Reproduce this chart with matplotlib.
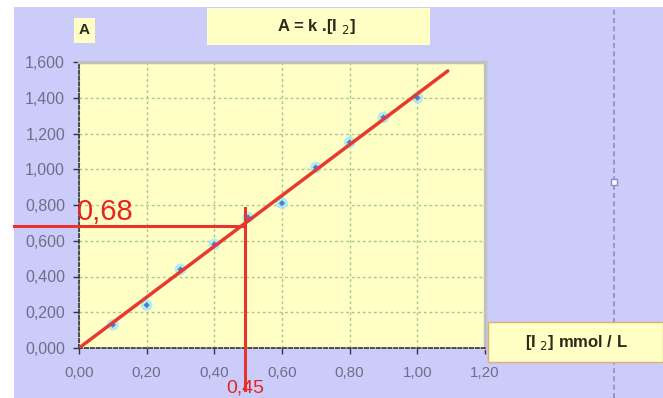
import matplotlib
matplotlib.use("Agg")
import matplotlib.pyplot as plt
import numpy as np
from matplotlib.patches import Rectangle

plt.rcParams["font.family"] = ["Liberation Sans", "DejaVu Sans"]

# Data
conc = [0.10, 0.20, 0.30, 0.40, 0.50, 0.60, 0.70, 0.80, 0.90, 1.00]
absorb = [0.13, 0.24, 0.44, 0.58, 0.73, 0.81, 1.01, 1.15, 1.29, 1.40]
fit_x = [0.0, 1.09]
fit_y = [0.0, 1.55]
read_x = 0.49
read_y = 0.68
read_x_label = "0,45"
read_y_label = "0,68"
xticks = [0.0, 0.2, 0.4, 0.6, 0.8, 1.0, 1.2]
yticks = [0.0, 0.2, 0.4, 0.6, 0.8, 1.0, 1.2, 1.4, 1.6]
xtick_labels = ["0,00", "0,20", "0,40", "0,60", "0,80", "1,00", "1,20"]
ytick_labels = ["0,000", "0,200", "0,400", "0,600", "0,800", "1,000", "1,200", "1,400", "1,600"]

W, H = 663, 398
fig = plt.figure(figsize=(W / 100, H / 100), dpi=100)
fig.patch.set_facecolor("white")

lav = "#CCCCFA"
# lavender background panel
fig.patches.append(Rectangle((14 / W, 0), 1 - 14 / W, (H - 7) / H,
                             transform=fig.transFigure, facecolor=lav,
                             edgecolor="none", zorder=-5))

ax = fig.add_axes([79 / W, 50 / H, 406 / W, 286 / H])
ax.set_zorder(1)
ax.set_facecolor("#FFFFC6")
ax.set_xlim(0, 1.2)
ax.set_ylim(0, 1.6)

ax.set_xticks(xticks)
ax.set_xticklabels(xtick_labels)
ax.set_yticks(yticks)
ax.set_yticklabels(ytick_labels)
ax.tick_params(axis="both", labelsize=11.5, colors="#333344", labelcolor="#6E6E8C",
               length=4, width=1, direction="out")
ax.tick_params(axis="y", pad=6)
ax.tick_params(axis="x", pad=9, labelsize=11)
ax.grid(True, color="#A8C890", linestyle=(0, (2, 2)), linewidth=1.0)
ax.set_axisbelow(True)

for side in ["top", "right"]:
    ax.spines[side].set_color("#C0C0C0")
    ax.spines[side].set_linewidth(2.5)
for side in ["left", "bottom"]:
    ax.spines[side].set_color("#333333")
    ax.spines[side].set_linestyle((0, (2, 1.5)))
    ax.spines[side].set_linewidth(1.2)

# data points (cyan halo + blue core)
ax.scatter(conc, absorb, s=70, color="#9FE8FF", alpha=0.8, zorder=3, edgecolors="none")
ax.scatter(conc, absorb, s=10, color="#4060C0", alpha=0.8, zorder=4, edgecolors="none", marker="D")

# fitted line
ax.plot(fit_x, fit_y, color="#E63A2E", linewidth=2.5, zorder=5, solid_capstyle="round")

# reading lines
ax.plot([-65 / 338.3, read_x], [read_y, read_y], color="#E8342E", linewidth=2.2,
        clip_on=False, zorder=6)
ax.plot([read_x, read_x], [0.783, -0.235], color="#E8342E", linewidth=2.2,
        clip_on=False, zorder=6)
ax.text(-0.005, read_y + 0.005, read_y_label, color="#E8241E", fontsize=21,
        ha="left", va="bottom", zorder=7)
ax.text(read_x, -0.272, read_x_label, color="#E8241E", fontsize=14,
        ha="center", va="bottom", zorder=7, clip_on=False)

# title box
fig.patches.append(Rectangle((207 / W, 1 - 45 / H), 223 / W, 37 / H,
                             transform=fig.transFigure, facecolor="#FFFFC6",
                             edgecolor="none", zorder=2))
fig.text(316 / W, 1 - 27 / H, r"A = k .[I $_{2}$]", ha="center", va="center",
         fontsize=12, fontweight="bold", color="#2A2A1A", zorder=3)

# "A" box
fig.patches.append(Rectangle((74 / W, 1 - 43 / H), 21 / W, 25 / H,
                             transform=fig.transFigure, facecolor="#FFFFC6",
                             edgecolor="none", zorder=2))
fig.text(84.5 / W, 1 - 30 / H, "A", ha="center", va="center",
         fontsize=11, fontweight="bold", color="#2A2A1A", zorder=3)

# vertical dashed line at right
fig.add_artist(plt.Line2D([614 / W, 614 / W], [0, 1 - 7 / H], transform=fig.transFigure,
                          color="#8A8AC8", linestyle=(0, (3, 2)), linewidth=1.2, zorder=2))
fig.add_artist(plt.Line2D([614 / W], [1 - 182 / H], transform=fig.transFigure,
                          marker="s", markersize=5, markerfacecolor="white",
                          markeredgecolor="#8A8AC8", linestyle="none", zorder=3))

# x-axis label box
fig.patches.append(Rectangle((488 / W, 1 - 362 / H), (W - 488) / W, 40 / H,
                             transform=fig.transFigure, facecolor="#FFFFC6",
                             edgecolor="#E0B070", linewidth=1.0, zorder=4))
fig.text(576 / W, 1 - 343 / H, r"[I $_{2}$] mmol / L", ha="center", va="center",
         fontsize=12, fontweight="bold", color="#2A2A1A", zorder=5)

fig.savefig("out.png", dpi=100, facecolor=fig.get_facecolor())
